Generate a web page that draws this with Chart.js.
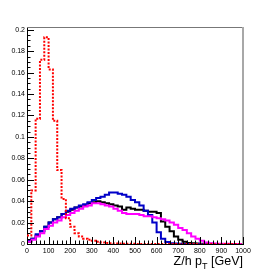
<!DOCTYPE html>
<html><head><meta charset="utf-8">
<script src="https://cdn.jsdelivr.net/npm/chart.js@4/dist/chart.umd.min.js"></script>
<style>html,body{margin:0;padding:0;background:#fff}canvas{display:block}</style>
</head><body>
<canvas id="c" width="270" height="273"></canvas>
<script>
// ---- data (20 GeV bins, low edges) ----
const binLow = [0,20,40,60,80,100,120,140,160,180,200,220,240,260,280,300,320,340,360,380,
  400,420,440,460,480,500,520,540,560,580,600,620,640,660,680,700,720,740,760,780,
  800,820,840,860,880,900,920,940,960,980];
const binHigh = 1000;
const redSeries = [0.008,0.050,0.117,0.172,0.193,0.163,0.115,0.069,0.042,0.024,
  0.016,0.010,0.007,0.005,0.004,0.003,0.002,0.0015,0.001,0.0008,
  0.0005,0.0004,0.0003,0.0002,0.0002,0.0001,0.0001,0.0001,0.0001,0.0001,
  0,0,0,0,0,0,0,0,0,0,0,0,0,0,0,0,0,0,0,0];
const blackSeries = [0.002,0.005,0.008,0.012,0.016,0.020,0.023,0.025,0.028,0.030,
  0.032,0.034,0.035,0.036,0.038,0.039,0.040,0.039,0.038,0.037,
  0.036,0.035,0.032,0.034,0.033,0.032,0.032,0.031,0.030,0.030,
  0.029,0.021,0.016,0.012,0.007,0.004,0.002,0.001,0.0006,0.0004,
  0.0003,0.0002,0.0002,0.0001,0.0001,0.0001,0,0,0,0];
const blueSeries = [0.003,0.005,0.009,0.012,0.016,0.020,0.023,0.025,0.028,0.031,
  0.033,0.034,0.036,0.037,0.039,0.041,0.043,0.044,0.046,0.048,
  0.048,0.047,0.046,0.044,0.041,0.039,0.036,0.031,0.027,0.020,
  0.011,0.005,0.0018,0.0007,0.0004,0.0002,0.0001,0.0001,0,0,
  0,0,0,0,0,0,0,0,0,0];
const magentaSeries = [0.002,0.004,0.007,0.010,0.014,0.017,0.020,0.022,0.025,0.027,
  0.029,0.031,0.033,0.035,0.036,0.038,0.038,0.037,0.036,0.035,
  0.033,0.031,0.029,0.028,0.028,0.028,0.027,0.026,0.026,0.025,
  0.024,0.023,0.022,0.020,0.018,0.015,0.013,0.010,0.007,0.005,
  0.003,0.0015,0.0008,0.0005,0.0003,0.0002,0.0002,0.0001,0.0001,0.0001];
const xTickLabels = [0,100,200,300,400,500,600,700,800,900,1000];
const yTickLabels = [0,0.02,0.04,0.06,0.08,0.1,0.12,0.14,0.16,0.18,0.2];
const yMax = 0.2026;
const xTitle = ['Z/h p', 'T', ' [GeV]'];

function steps(vals){
  const pts = binLow.map((x,i)=>({x:x, y:vals[i]}));
  pts.push({x:binHigh, y:vals[vals.length-1]});
  return pts;
}
function ds(vals, color, order, dash){
  return {data: steps(vals), borderColor: color, borderWidth: 2, stepped: 'before',
    pointRadius: 0, fill: false, tension: 0, order: order, borderDash: dash || [],
    borderJoinStyle: 'miter', borderCapStyle: 'butt'};
}

const decor = {
  id: 'decor',
  afterDatasetsDraw(chart){
    const ctx = chart.ctx, a = chart.chartArea, xs = chart.scales.x, ys = chart.scales.y;
    ctx.save();
    // frame top & right
    ctx.strokeStyle = '#777'; ctx.lineWidth = 1;
    ctx.beginPath(); ctx.moveTo(a.left, Math.round(a.top)+0.5); ctx.lineTo(a.right, Math.round(a.top)+0.5); ctx.stroke();
    ctx.strokeStyle = '#a8a8a8'; ctx.lineWidth = 2;
    ctx.beginPath(); ctx.moveTo(a.right, a.top); ctx.lineTo(a.right, a.bottom); ctx.stroke();
    // ticks
    ctx.strokeStyle = '#000'; ctx.lineWidth = 1;
    ctx.beginPath();
    for (let v = 0; v <= 1000; v += 20) {
      const px = Math.round(xs.getPixelForValue(v)) + 0.5;
      const len = (v % 100 === 0) ? 7 : 3.5;
      ctx.moveTo(px, a.bottom); ctx.lineTo(px, a.bottom - len);
    }
    for (let k = 0; k <= 40; k++) {
      const v = k * 0.005;
      const py = Math.round(ys.getPixelForValue(v)) + 0.5;
      const len = (k % 4 === 0) ? 7 : 3.5;
      ctx.moveTo(a.left, py); ctx.lineTo(a.left + len, py);
    }
    ctx.stroke();
    // axis title with subscript
    ctx.fillStyle = '#000';
    ctx.textBaseline = 'alphabetic';
    const f1 = '12.5px "Liberation Sans", Arial, sans-serif';
    const f2 = '9px "Liberation Sans", Arial, sans-serif';
    ctx.font = f1; const w1 = ctx.measureText(xTitle[0]).width, w3 = ctx.measureText(xTitle[2]).width;
    ctx.font = f2; const w2 = ctx.measureText(xTitle[1]).width;
    const x0 = a.right - (w1 + w2 + w3), base = 265;
    ctx.font = f1; ctx.fillText(xTitle[0], x0, base);
    ctx.font = f2; ctx.fillText(xTitle[1], x0 + w1, base + 4);
    ctx.font = f1; ctx.fillText(xTitle[2], x0 + w1 + w2, base);
    ctx.restore();
  }
};

new Chart(document.getElementById('c'), {
  type: 'line',
  data: { datasets: [
    ds(redSeries, '#ff0000', 0, [2,1.5]),
    ds(magentaSeries, '#ff00ff', 1),
    ds(blueSeries, '#0000c8', 2),
    ds(blackSeries, '#000000', 3)
  ]},
  options: {
    responsive: false, animation: false, devicePixelRatio: 1,
    layout: { padding: { top: 27, right: 27, left: 0, bottom: 0 } },
    plugins: { legend: { display: false }, tooltip: { enabled: false } },
    scales: {
      x: { type: 'linear', min: 0, max: 1000,
        afterBuildTicks: s => { s.ticks = xTickLabels.map(v => ({value: v})); },
        afterFit: s => { s.height = 29; },
        ticks: { autoSkip: false, maxRotation: 0, minRotation: 0, padding: 3, color: '#000',
          font: { family: '"Liberation Sans", Arial, sans-serif', size: 7 },
          callback: v => String(v) },
        grid: { display: false, drawTicks: false },
        border: { display: true, color: '#000', width: 1 } },
      y: { type: 'linear', min: 0, max: yMax,
        afterBuildTicks: s => { s.ticks = yTickLabels.map(v => ({value: v})); },
        afterFit: s => { s.width = 27; },
        ticks: { autoSkip: false, padding: 2, color: '#000',
          font: { family: '"Liberation Sans", Arial, sans-serif', size: 7 },
          callback: v => (v === 0 ? '0' : String(+(+v).toFixed(2))) },
        grid: { display: false, drawTicks: false },
        border: { display: true, color: '#000', width: 1 } }
    }
  },
  plugins: [decor]
});
</script>
</body></html>
